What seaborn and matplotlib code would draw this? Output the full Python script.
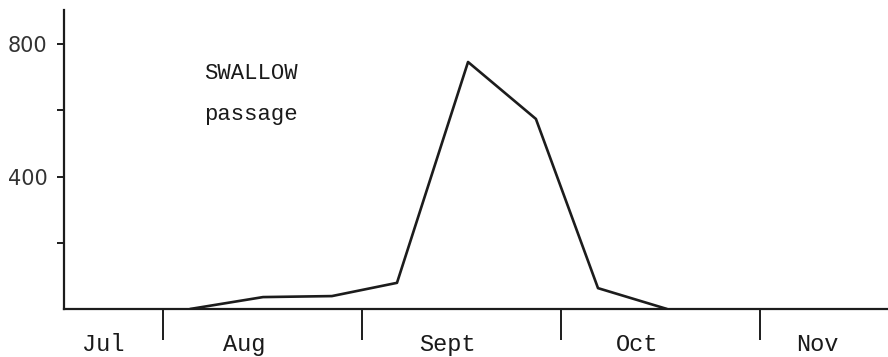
import matplotlib
matplotlib.use("Agg")
import matplotlib.pyplot as plt
import seaborn as sns
import pandas as pd

# x positions in months from 1 August; counts of swallows
x_months = [0.136, 0.503, 0.849, 1.176, 1.533, 1.874, 2.186, 2.533]
counts = [0, 36, 39, 79, 746, 574, 63, 0]

month_bounds = [0, 1, 2, 3]
month_labels = ["Jul", "Aug", "Sept", "Oct", "Nov"]
month_label_pos = [-0.30, 0.41, 1.43, 2.38, 3.29]

y_ticks = [200, 400, 600, 800]
y_tick_labels = ["", "400", "", "800"]

sns.set_theme(style="white")
plt.rcParams["font.family"] = ["Liberation Mono", "DejaVu Sans"]

fig = plt.figure(figsize=(8.88, 3.57), dpi=100)
ax = fig.add_axes([64 / 888, 48 / 357, 824 / 888, 299 / 357])

df = pd.DataFrame({"month": x_months, "count": counts})
sns.lineplot(data=df, x="month", y="count", ax=ax, color="#1c1c1c",
             linewidth=1.9, sort=False)

ax.set_xlim(-0.497, 3.643)
ax.set_ylim(0, 903)

for s in ["top", "right"]:
    ax.spines[s].set_visible(False)
for s in ["left", "bottom"]:
    ax.spines[s].set_color("#1c1c1c")
    ax.spines[s].set_linewidth(1.6)

ax.set_xticks(month_bounds)
ax.set_xticklabels([""] * len(month_bounds))
ax.tick_params(axis="x", which="major", direction="out", length=22,
               width=1.4, color="#1c1c1c", bottom=True)

ax.set_xticks(month_label_pos, minor=True)
ax.set_xticklabels(month_labels, minor=True, fontsize=17,
                   fontfamily=["Liberation Mono"], color="#1a1a1a")
ax.tick_params(axis="x", which="minor", length=0, pad=17)

ax.set_yticks(y_ticks)
ax.set_yticklabels(y_tick_labels, fontsize=15, fontfamily=["DejaVu Sans"],
                   color="#333333", fontweight="normal")
ax.tick_params(axis="y", direction="out", length=5, width=1.4,
               color="#1c1c1c", left=True, pad=7)

ax.set_xlabel("")
ax.set_ylabel("")
ax.grid(False)

ax.text(0.170, 0.787, "SWALLOW", transform=ax.transAxes, fontsize=16,
        fontfamily=["Liberation Mono"], color="#1a1a1a", va="center", ha="left")
ax.text(0.170, 0.650, "passage", transform=ax.transAxes, fontsize=16,
        fontfamily=["Liberation Mono"], color="#1a1a1a", va="center", ha="left")

fig.savefig("out.png", dpi=100, facecolor="white")
